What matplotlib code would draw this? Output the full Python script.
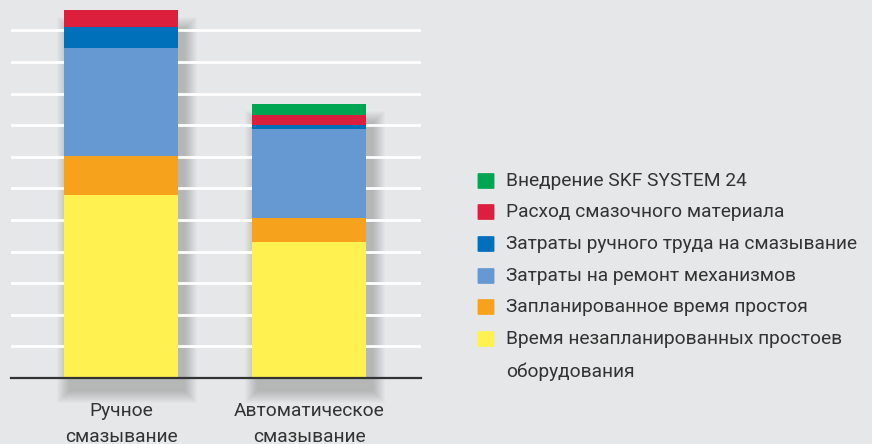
import numpy as np
import matplotlib
matplotlib.use("Agg")
import matplotlib.pyplot as plt
from matplotlib.patches import Rectangle, FancyBboxPatch

plt.rcParams["font.family"] = ["Roboto", "DejaVu Sans"]

# --- data ---
categories = ["Ручное\nсмазывание", "Автоматическое\nсмазывание"]
series_names = [
    "Время незапланированных простоев\nоборудования",
    "Запланированное время простоя",
    "Затраты на ремонт механизмов",
    "Затраты ручного труда на смазывание",
    "Расход смазочного материала",
    "Внедрение SKF SYSTEM 24",
]
series_colors = ["#FFF150", "#F7A21C", "#6699D1", "#0070BA", "#DC1F3C", "#00A651"]
manual_values = [5.79, 1.24, 3.41, 0.66, 0.55, 0.0]
auto_values = [4.30, 0.76, 2.82, 0.12, 0.32, 0.35]

BG = "#E6E7E8"
TXT = "#333333"
FS = 13.8
W, H = 872, 444

fig = plt.figure(figsize=(W / 100, H / 100), dpi=100, facecolor=BG)
# axes placed in pixel terms: left 11, right 421, baseline at y=378
ax = fig.add_axes([11 / W, (H - 378) / H, 410 / W, 378 / H])
ax.set_facecolor(BG)

x = np.arange(len(categories))
bar_w = 0.606
ax.set_xlim(-0.585, 1.596)
ax.set_ylim(0, 11.96)

data = np.array([manual_values, auto_values]).T  # series x category
totals = data.sum(axis=0)

# soft drop shadow behind each bar (offset right/down)
px_x = 1 / 188.0   # data units per pixel horizontally
px_y = 1 / 31.6    # data units per pixel vertically
for xi, tot in zip(x, totals):
    for k in range(1, 14):
        ax.add_patch(Rectangle(
            (xi - bar_w / 2 + (6 - k) * px_x, (-12 - k) * px_y),
            bar_w + 2 * k * px_x, tot + 2 * k * px_y - 8 * px_y,
            facecolor="#000000", alpha=0.017, lw=0, zorder=1, clip_on=False))

bottom = np.zeros(len(categories))
for vals, col in zip(data, series_colors):
    ax.bar(x, vals, bar_w, bottom=bottom, color=col, lw=0, zorder=3)
    bottom += vals

# white horizontal grid
for gy in range(1, 12):
    ax.axhline(gy, color="white", lw=2, zorder=2)
ax.axhline(0, color="#333333", lw=1.6, zorder=4, clip_on=False)

for s in ax.spines.values():
    s.set_visible(False)
ax.set_yticks([])
ax.set_xticks(x)
ax.set_xticklabels(categories, fontsize=FS, color=TXT, linespacing=1.62)
ax.tick_params(axis="x", length=0, pad=17)

# legend drawn by hand (top entry first)
row_y = [181, 212, 244, 276, 307, 339]
line_step = 32.5
for yy, name, col in zip(row_y, series_names[::-1], series_colors[::-1]):
    fig.patches.append(FancyBboxPatch(
        (479 / W, 1 - (yy + 7) / H), 14 / W, 14 / H,
        boxstyle="round,pad=0.0012", transform=fig.transFigure,
        facecolor=col, edgecolor=col, lw=0.5))
    for i, line in enumerate(name.split("\n")):
        fig.text(506 / W, 1 - (yy + i * line_step) / H, line, fontsize=FS,
                 color=TXT, va="center")

fig.savefig("out.png", dpi=100, facecolor=BG)
